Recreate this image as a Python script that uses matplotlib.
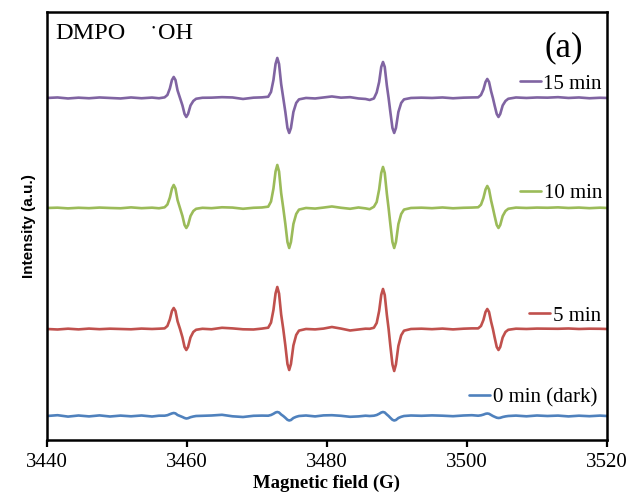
import matplotlib
matplotlib.use("Agg")
import matplotlib.pyplot as plt
from matplotlib.legend import Legend

# ---- data ----
field = [
    # baseline
    3440.0, 3441.5, 3443.0, 3444.5, 3446.0, 3447.5, 3449.0, 3450.5, 3452.0, 3453.5, 3455.0, 3456.0,
    # line 1
    3456.8, 3457.2, 3457.55, 3457.85, 3458.1, 3458.35, 3458.65, 3459.0,
    3459.35, 3459.65, 3459.9, 3460.15, 3460.5, 3460.9, 3461.3,
    # baseline
    3462.2, 3463.5, 3465.0, 3466.5, 3468.0, 3469.5, 3470.7,
    # line 2
    3471.6, 3472.0, 3472.35, 3472.65, 3472.9, 3473.15, 3473.45, 3473.75,
    3474.05, 3474.35, 3474.6, 3474.85, 3475.2, 3475.6, 3476.0,
    # baseline
    3477.0, 3478.3, 3479.5, 3480.7, 3482.0, 3483.3, 3484.5, 3485.5, 3486.1,
    # line 3
    3486.7, 3487.1, 3487.45, 3487.75, 3488.0, 3488.25, 3488.55, 3488.8,
    3489.05, 3489.35, 3489.6, 3489.85, 3490.2, 3490.6, 3491.0,
    # baseline
    3492.0, 3493.5, 3495.0, 3496.5, 3498.0, 3499.5, 3500.7,
    # line 4
    3501.6, 3502.0, 3502.35, 3502.65, 3502.9, 3503.15, 3503.45, 3503.7,
    3503.95, 3504.25, 3504.5, 3504.75, 3505.1, 3505.5, 3505.9,
    # baseline
    3507.0, 3508.5, 3510.0, 3511.5, 3513.0, 3514.5, 3516.0, 3517.5, 3519.0, 3520.0,
]

int_15min = [
    0, 0.5, -0.5, 0.3, -0.3, 0.5, 0, -0.5, 0.5, -0.3, 0.4, -0.3,
    0.6, 3, 9.5, 18, 21, 18, 7.5, 0, -7.5, -16, -19, -16, -7.5, -3, -0.8,
    0.2, 0.3, 0.8, 0.5, -1, 0.3, 0.6,
    1.2, 6, 18, 34, 40, 34, 14, 0, -14, -30, -35, -30, -14, -5, -1.4,
    0, -0.5, 0.5, 1.5, 0.3, 0.8, -0.5, -1, -2,
    -0.5, 5.5, 16, 31, 36, 31, 12.5, 0, -14, -30, -35, -30, -14, -5, -1.4,
    0, 0.3, 0, 0.5, -0.3, 0.3, 0.5,
    0.6, 3, 8.5, 16, 19, 16, 6.5, 0, -7.5, -16, -19, -16, -7.5, -3, -0.8,
    0.5, 0, 0.5, 0.3, 0.8, 0, 0.5, -0.3, 0.2, 0,
]

int_10min = [
    0, 0.3, -0.4, 0.2, -0.2, 0.4, 0, -0.3, 0.6, -0.2, 0.3, -0.3,
    0.7, 3.5, 10.5, 19.5, 23, 19.5, 8, 0, -8, -17, -20, -17, -8, -3, -0.8,
    0.2, -0.2, 0.7, 0.4, -0.8, 0.2, 0.5,
    1.3, 6.5, 19.5, 36.5, 43, 36.5, 15, 0, -16, -34, -40, -34, -16, -6, -1.6,
    0, -0.6, 0.4, 1.5, 0.2, -0.8, 0.5, -0.4, -1.2,
    1.2, 6, 18.5, 35, 41, 35, 14.5, 0, -16, -34, -40, -34, -16, -6, -1.6,
    0, 0.3, -0.2, 0.5, -0.3, 0.2, 0.4,
    0.7, 3.3, 10, 18.5, 22, 18.5, 7.5, 0, -8, -17, -20, -17, -8, -3, -0.8,
    0.4, 0, 0.4, 0.2, 0.6, 0, 0.4, -0.2, 0.3, 0,
]

int_5min = [
    0, -0.5, 0.3, -0.4, 0.4, -0.2, 0.3, 0, -0.3, 0.4, 0, 0.3,
    0.6, 3, 9.5, 18, 21, 18, 7.5, 0, -8.5, -18, -21, -18, -8.5, -3, -0.8,
    0.2, -0.3, 1.2, 0.6, -0.3, -0.5, 0.4,
    1.3, 6.3, 19, 35.5, 42, 35.5, 14.5, 0, -16.5, -35, -41, -35, -16.5, -6, -1.6,
    0, -0.4, 0.4, 2, 0.4, -1.5, -0.5, 0.3, 0.2,
    1.2, 6, 18, 34, 40, 34, 14, 0, -17, -35.5, -42, -35.5, -17, -6.3, -1.7,
    0, 0.3, -0.2, 0.4, -0.4, 0.3, 0.6,
    0.6, 3, 9, 17, 20, 17, 7, 0, -8.5, -18, -21, -18, -8.5, -3, -0.8,
    0.3, 0, 0.4, 0.3, 0.2, 0.5, 0, 0.3, 0.2, 0,
]

int_0min = [
    0, 0.8, -0.6, 0.5, -0.4, 0.6, -0.5, 0.4, -0.3, 0.5, -0.5, 0.3,
    0.3, 0.8, 1.8, 2.6, 3, 2.6, 1, 0, -1, -2, -2.5, -2.2, -1.2, -0.5, 0,
    0.2, 0.5, 1.2, -0.3, -1, 0.2, 0.4,
    0.3, 1, 2.2, 3.5, 4, 3.5, 1.5, 0, -1.8, -3.8, -4.5, -4, -2, -0.8, 0,
    0.5, -0.4, 0.6, 0.8, 0.2, -0.8, -0.4, 0.3, 0,
    0.3, 1, 2.2, 3.5, 4, 3.5, 1.5, 0, -1.8, -3.8, -4.5, -4, -2, -0.8, 0,
    0.5, 0.2, 0.6, 0.3, -0.2, 0.5, 0.8,
    0.3, 0.7, 1.4, 2.2, 2.5, 2.2, 1, 0, -0.8, -1.7, -2, -1.8, -1, -0.4, 0,
    0.4, -0.3, 0.5, 0, 0.4, -0.4, 0.3, -0.2, 0.4, 0,
]

series_labels = ["15 min", "10 min", "5 min", "0 min (dark)"]
series_values = [int_15min, int_10min, int_5min, int_0min]
series_offsets = [342, 232, 111, 24]
series_colors = ["#8064A2", "#9BBB59", "#C0504D", "#4F81BD"]
legend_pos = [(0.991, 0.832), (0.991, 0.577), (0.989, 0.290), (0.982, 0.100)]

xticks = [3440, 3460, 3480, 3500, 3520]

for v in series_values:
    assert len(v) == len(field)

# ---- figure ----
fig = plt.figure(figsize=(6.32, 4.96), dpi=100)
ax = fig.add_axes([0.0744, 0.1129, 0.886, 0.863])

serif = "Liberation Serif"

lines = []
for vals, off, col in zip(series_values, series_offsets, series_colors):
    ln, = ax.plot(field, [v + off for v in vals], color=col, lw=1.9,
                  solid_joinstyle="round", solid_capstyle="round")
    lines.append(ln)

ax.set_xlim(3440, 3520)
ax.set_ylim(0, 428)
ax.set_xticks(xticks)
ax.set_xticklabels([str(t) for t in xticks], fontfamily=serif, fontsize=15)
ax.set_yticks([])
ax.tick_params(axis="x", direction="out", length=5, width=1.6, pad=4)
for s in ax.spines.values():
    s.set_linewidth(1.8)
    s.set_color("black")

ax.set_xlabel("Magnetic field (G)", fontfamily=serif, fontweight="bold",
              fontsize=13.5, labelpad=2)
ax.set_ylabel("Intensity (a.u.)", fontfamily="Liberation Sans",
              fontweight="bold", fontsize=11, labelpad=8)

# per-series labels
for ln, lab, pos in zip(lines, series_labels, legend_pos):
    lg = Legend(ax, [ln], [lab], loc="center right", bbox_to_anchor=pos,
                bbox_transform=ax.transAxes, frameon=False, handlelength=1.0,
                handletextpad=0.12, borderpad=0, borderaxespad=0,
                prop={"family": serif, "size": 15})
    ax.add_artist(lg)

ax.text(0.014, 0.937, "DMPO", transform=ax.transAxes, fontfamily=serif,
        fontsize=17.5, va="baseline", ha="left")
ax.text(0.189, 0.963, "\u2022", transform=ax.transAxes, fontfamily=serif,
        fontsize=7, va="center", ha="center")
ax.text(0.198, 0.937, "OH", transform=ax.transAxes, fontfamily=serif,
        fontsize=17.5, va="baseline", ha="left")
ax.text(0.923, 0.916, "(a)", transform=ax.transAxes, fontfamily=serif,
        fontsize=25, va="center", ha="center")

fig.savefig("out.png", dpi=100)
